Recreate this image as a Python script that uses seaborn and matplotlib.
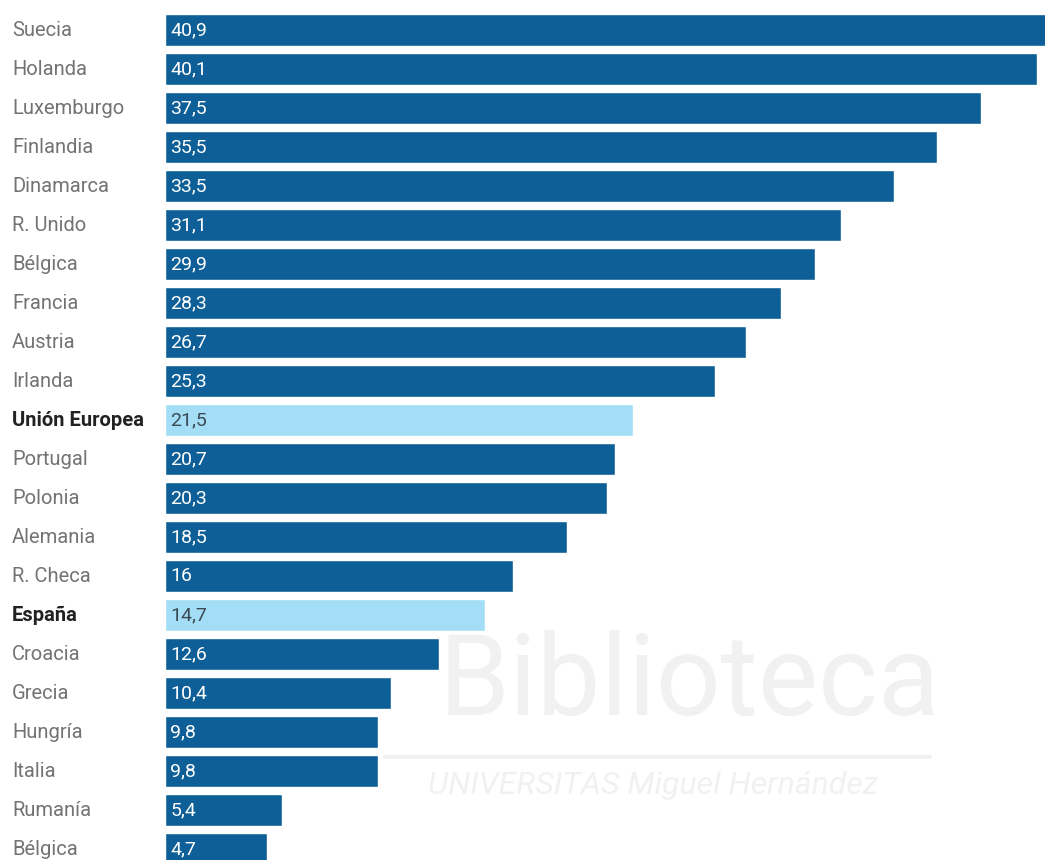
import matplotlib
matplotlib.use("Agg")
import matplotlib.pyplot as plt
import matplotlib.transforms as mtransforms
from matplotlib.lines import Line2D
import seaborn as sns
import pandas as pd

countries = ["Suecia", "Holanda", "Luxemburgo", "Finlandia", "Dinamarca", "R. Unido",
             "Bélgica", "Francia", "Austria", "Irlanda", "Unión Europea", "Portugal",
             "Polonia", "Alemania", "R. Checa", "España", "Croacia", "Grecia",
             "Hungría", "Italia", "Rumanía", "Bélgica"]
values = [40.9, 40.1, 37.5, 35.5, 33.5, 31.1, 29.9, 28.3, 26.7, 25.3, 21.5, 20.7,
          20.3, 18.5, 16, 14.7, 12.6, 10.4, 9.8, 9.8, 5.4, 4.7]
value_labels = ["40,9", "40,1", "37,5", "35,5", "33,5", "31,1", "29,9", "28,3", "26,7",
                "25,3", "21,5", "20,7", "20,3", "18,5", "16", "14,7", "12,6", "10,4",
                "9,8", "9,8", "5,4", "4,7"]
highlight = ["Unión Europea", "España"]

DARK = "#0e5f97"
LIGHT = "#a3def6"

df = pd.DataFrame({
    "pos": list(range(len(countries))),
    "country": countries,
    "value": values,
    "group": ["hl" if c in highlight else "base" for c in countries],
})

sns.set_theme(style="white")
plt.rcParams["font.family"] = ["Roboto", "DejaVu Sans"]

fig = plt.figure(figsize=(10.45, 8.6), dpi=100)
fig.patch.set_facecolor("white")
ax = fig.add_axes([165 / 1045, 0, (1045 - 165) / 1045, 1])

sns.barplot(data=df, x="value", y="pos", hue="group", orient="h",
            palette={"base": DARK, "hl": LIGHT}, dodge=False, width=0.8,
            saturation=1, legend=False, ax=ax, zorder=2)

ax.set_xlim(0, 40.46)
ax.set_ylim(21.28, -0.77)
ax.set_axis_off()

trans = mtransforms.blended_transform_factory(fig.transFigure, ax.transData)
for i, (c, lab) in enumerate(zip(countries, value_labels)):
    bold = c in highlight
    ax.text(12 / 1045, i, c, transform=trans, ha="left", va="center",
            fontsize=14.5, fontweight="bold" if bold else "normal",
            color="#222222" if bold else "#737373")
    ax.text(0.25, i, lab, ha="left", va="center", fontsize=14,
            color="#3c4a55" if bold else "white", zorder=3)

# faint watermark
fig.text(0.66, 0.142, "Biblioteca", ha="center", va="bottom", fontsize=82,
         color="#e6e6e6", alpha=0.55, zorder=5)
fig.add_artist(Line2D([385 / 1045, 930 / 1045], [1 - 757 / 860, 1 - 757 / 860],
                      transform=fig.transFigure, color="#e6e6e6", lw=3,
                      alpha=0.55, zorder=5))
fig.text(0.625, 1 - 785 / 860, "UNIVERSITAS Miguel Hernández", ha="center",
         va="center", fontsize=23, fontstyle="italic", color="#e6e6e6",
         alpha=0.55, zorder=5)

fig.savefig("out.png", dpi=100, facecolor="white")
